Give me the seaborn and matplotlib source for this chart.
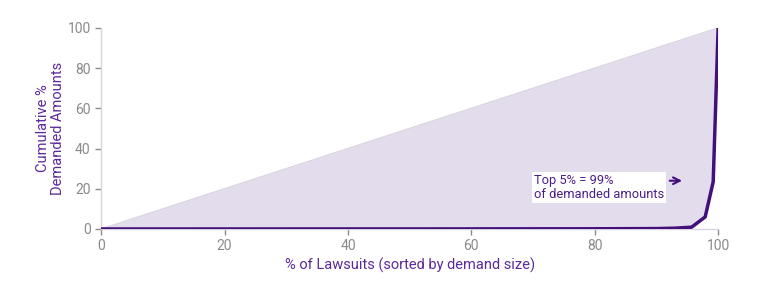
import matplotlib
matplotlib.use("Agg")
import matplotlib.pyplot as plt
import seaborn as sns
import pandas as pd
import numpy as np

pct_lawsuits = [0, 50, 80, 90, 93, 95.7, 97.9, 99.2, 100]
cum_demand = [0, 0.02, 0.1, 0.2, 0.4, 0.9, 6.0, 23.5, 100]
equality_x = [0, 100]
equality_y = [0, 100]

sns.set_theme(style="white")
plt.rcParams['font.family'] = ['Roboto', 'DejaVu Sans']

df = pd.DataFrame({"x": pct_lawsuits, "y": cum_demand})
fig = plt.figure(figsize=(7.84, 2.82), dpi=100)
ax = fig.add_axes([0.129, 0.188, 0.787, 0.713])

eq_interp = np.interp(pct_lawsuits, equality_x, equality_y)
ax.fill_between(pct_lawsuits, cum_demand, eq_interp, color="#e3dcec", lw=0, zorder=1)
ax.plot(equality_x, equality_y, color="#d9d4e0", lw=1, zorder=2)
sns.lineplot(data=df, x="x", y="y", ax=ax, color="#43107a", lw=2.5, zorder=3)

ax.set_xlim(0, 100)
ax.set_ylim(0, 100)
ax.set_xticks([0, 20, 40, 60, 80, 100])
ax.set_yticks([0, 20, 40, 60, 80, 100])
ax.tick_params(axis="both", colors="#8a8a8a", labelsize=10, length=4, width=1, direction="out",
               bottom=True, left=True)
for s in ["top", "right"]:
    ax.spines[s].set_visible(False)
for s in ["left", "bottom"]:
    ax.spines[s].set_color("#d8d2e2")
    ax.spines[s].set_linewidth(1)

ax.set_xlabel("% of Lawsuits (sorted by demand size)", color="#5b2a9a", fontsize=10.5, labelpad=3)
ax.set_ylabel("Cumulative %\nDemanded Amounts", color="#5b2a9a", fontsize=10.5, labelpad=2,
              linespacing=1.1)

ax.text(70.2, 20.5, "Top 5% = 99%\nof demanded amounts", color="#4b1d8a", fontsize=9.3,
        va="center", ha="left", linespacing=1.1,
        bbox=dict(boxstyle="square,pad=0.15", fc="white", ec="none"), zorder=4)
ax.annotate("", xy=(94.6, 24), xytext=(91.7, 24),
            arrowprops=dict(arrowstyle="->", color="#43107a", lw=1.5), zorder=4)

fig.savefig("out.png", dpi=100)
